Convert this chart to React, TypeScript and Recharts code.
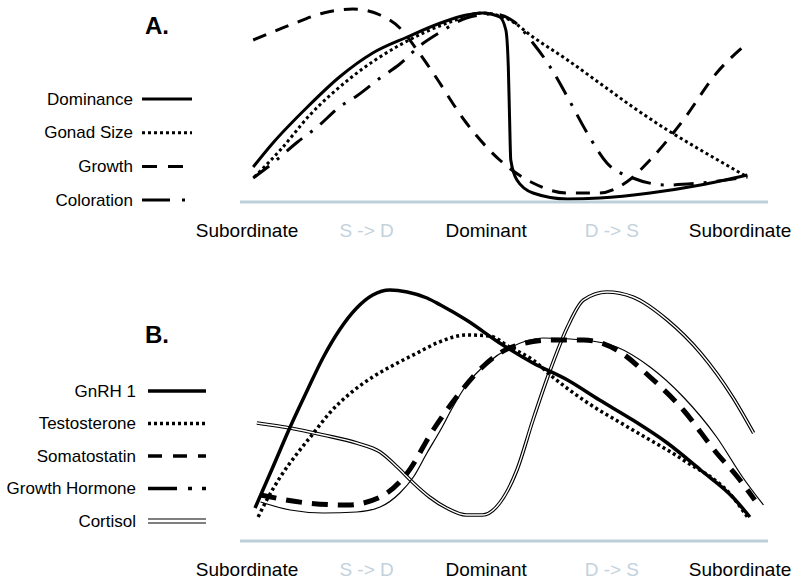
import { LineChart, Line, XAxis, YAxis, Legend } from 'recharts';

// x positions along the cycle: 0 = Subordinate, 2 ~ Dominant, 4 = Subordinate
const TICK_POS = [0, 0.97, 1.94, 2.96, 4];
const TICK_LABELS = ['Subordinate', 'S -> D', 'Dominant', 'D -> S', 'Subordinate'];
const TICK_MUTED = [false, true, false, true, false];

// Panel A
const dominance = [
  { x: 0.05, y: 17.5 }, { x: 0.21, y: 29.5 }, { x: 0.49, y: 47.5 }, { x: 0.75, y: 62.5 }, { x: 1.02, y: 74.5 },
  { x: 1.3, y: 82.5 }, { x: 1.57, y: 89.5 }, { x: 1.78, y: 93.5 }, { x: 1.91, y: 94.5 }, { x: 2.05, y: 92.5 },
  { x: 2.1, y: 86 }, { x: 2.12, y: 67.5 }, { x: 2.13, y: 42.5 }, { x: 2.14, y: 21 }, { x: 2.19, y: 11 },
  { x: 2.32, y: 4.5 }, { x: 2.6, y: 1.5 }, { x: 2.86, y: 2 }, { x: 3.27, y: 4.5 }, { x: 3.68, y: 8.5 },
  { x: 4.06, y: 13.5 },
];
const gonadSize = [
  { x: 0.06, y: 12.5 }, { x: 0.27, y: 26 }, { x: 0.51, y: 43.5 }, { x: 0.84, y: 62 }, { x: 1.24, y: 78.5 },
  { x: 1.65, y: 90 }, { x: 1.91, y: 94.5 }, { x: 2.13, y: 91 }, { x: 2.32, y: 82.5 }, { x: 2.6, y: 71 },
  { x: 2.86, y: 59.5 }, { x: 3.13, y: 47.5 }, { x: 3.41, y: 36 }, { x: 3.68, y: 26 }, { x: 4.06, y: 12.5 },
];
const growth = [
  { x: 0.05, y: 81 }, { x: 0.35, y: 88.5 }, { x: 0.62, y: 94.5 }, { x: 0.86, y: 96.5 }, { x: 1.08, y: 93.5 },
  { x: 1.24, y: 87 }, { x: 1.38, y: 76 }, { x: 1.51, y: 64.5 }, { x: 1.78, y: 39.5 }, { x: 2.05, y: 21 },
  { x: 2.32, y: 9.5 }, { x: 2.6, y: 4.5 }, { x: 2.86, y: 4.5 }, { x: 3.08, y: 10 }, { x: 3.27, y: 21 },
  { x: 3.54, y: 41 }, { x: 3.81, y: 64.5 }, { x: 4.06, y: 79.5 },
];
const coloration = [
  { x: 0.05, y: 12 }, { x: 0.21, y: 19.5 }, { x: 0.41, y: 30 }, { x: 0.57, y: 37.5 }, { x: 0.75, y: 47.5 },
  { x: 0.89, y: 53 }, { x: 1.08, y: 62 }, { x: 1.24, y: 69 }, { x: 1.4, y: 78 }, { x: 1.57, y: 85 },
  { x: 1.78, y: 92 }, { x: 2.0, y: 94 }, { x: 2.17, y: 90 }, { x: 2.32, y: 79.5 }, { x: 2.46, y: 67.5 },
  { x: 2.6, y: 52.5 }, { x: 2.76, y: 34.5 }, { x: 2.92, y: 19.5 }, { x: 3.13, y: 12 }, { x: 3.41, y: 8.5 },
  { x: 3.68, y: 9.5 }, { x: 4.06, y: 12.5 },
];

// Panel B
const gnrh = [
  { x: 0.065, y: 16.5 }, { x: 0.21, y: 37 }, { x: 0.35, y: 57 }, { x: 0.49, y: 75.5 }, { x: 0.62, y: 92 },
  { x: 0.75, y: 105.5 }, { x: 0.89, y: 116.5 }, { x: 1.02, y: 123 }, { x: 1.16, y: 125.5 }, { x: 1.3, y: 124.5 },
  { x: 1.46, y: 121.5 }, { x: 1.57, y: 118 }, { x: 1.78, y: 110.5 }, { x: 2.05, y: 99 }, { x: 2.32, y: 89 },
  { x: 2.6, y: 80.5 }, { x: 2.86, y: 70.5 }, { x: 3.13, y: 60.5 }, { x: 3.41, y: 49 }, { x: 3.68, y: 35.5 },
  { x: 3.94, y: 22 }, { x: 4.08, y: 12 },
];
const testosterone = [
  { x: 0.09, y: 12 }, { x: 0.16, y: 20.5 }, { x: 0.27, y: 32 }, { x: 0.41, y: 44 }, { x: 0.54, y: 54 },
  { x: 0.67, y: 64 }, { x: 0.84, y: 74 }, { x: 1.02, y: 82 }, { x: 1.22, y: 89 }, { x: 1.38, y: 94 },
  { x: 1.54, y: 99 }, { x: 1.78, y: 103 }, { x: 1.97, y: 102.5 }, { x: 2.13, y: 97 }, { x: 2.32, y: 90.5 },
  { x: 2.48, y: 82 }, { x: 2.73, y: 70.5 }, { x: 3.13, y: 55.5 }, { x: 3.54, y: 40.5 }, { x: 3.94, y: 22 },
  { x: 4.06, y: 12 },
];
const somatostatin = [
  { x: 0.11, y: 23 }, { x: 0.49, y: 19 }, { x: 0.81, y: 18 }, { x: 1.08, y: 22 }, { x: 1.3, y: 34 },
  { x: 1.51, y: 55.5 }, { x: 1.7, y: 72 }, { x: 1.91, y: 87 }, { x: 2.13, y: 96.5 }, { x: 2.46, y: 100.5 },
  { x: 2.73, y: 100.5 }, { x: 3.0, y: 95.5 }, { x: 3.27, y: 82 }, { x: 3.54, y: 65.5 }, { x: 3.81, y: 44 },
  { x: 3.98, y: 32 }, { x: 4.12, y: 20.5 },
];
const growthHormone = [
  { x: 0.11, y: 19.5 }, { x: 0.35, y: 15.5 }, { x: 0.62, y: 14 }, { x: 0.89, y: 14.5 }, { x: 1.08, y: 17 },
  { x: 1.24, y: 24 }, { x: 1.35, y: 32 }, { x: 1.46, y: 44 }, { x: 1.57, y: 55.5 }, { x: 1.67, y: 67 },
  { x: 1.78, y: 78 }, { x: 1.95, y: 89 }, { x: 2.13, y: 96.5 }, { x: 2.4, y: 101.5 }, { x: 2.73, y: 100.5 },
  { x: 3.0, y: 97 }, { x: 3.27, y: 87 }, { x: 3.54, y: 72 }, { x: 3.81, y: 52 }, { x: 4.02, y: 32 },
  { x: 4.19, y: 18 },
];
const cortisol = [
  { x: 0.08, y: 59 }, { x: 0.35, y: 56.5 }, { x: 0.62, y: 53 }, { x: 0.89, y: 49 }, { x: 1.08, y: 44.5 },
  { x: 1.22, y: 37 }, { x: 1.35, y: 29 }, { x: 1.48, y: 22 }, { x: 1.62, y: 16.5 }, { x: 1.78, y: 13 },
  { x: 1.91, y: 13 }, { x: 2.05, y: 19 }, { x: 2.19, y: 35.5 }, { x: 2.32, y: 60.5 }, { x: 2.46, y: 85.5 },
  { x: 2.6, y: 107 }, { x: 2.73, y: 120.5 }, { x: 2.92, y: 124.5 }, { x: 3.13, y: 122 }, { x: 3.41, y: 110.5 },
  { x: 3.68, y: 94 }, { x: 3.94, y: 72 }, { x: 4.11, y: 54 },
];

const LEGEND_A = ['Dominance', 'Gonad Size', 'Growth', 'Coloration'];
const LEGEND_B = ['GnRH 1', 'Testosterone', 'Somatostatin', 'Growth Hormone', 'Cortisol'];

const FONT = '"Liberation Sans", Arial, Helvetica, sans-serif';
const AXIS_COLOR = '#bccfda';
const MUTED = '#c3d2dc';
const X_DOMAIN: [number, number] = [-0.057, 4.227];

const Tick = ({ x, y, index }: any) => (
  <text
    x={x}
    y={y + 20}
    textAnchor="middle"
    dominantBaseline="central"
    fontFamily={FONT}
    fontSize={19}
    fill={TICK_MUTED[index] ? MUTED : '#000'}
  >
    {TICK_LABELS[index]}
  </text>
);

const legendA = () => {
  const dashes = ['', '3 3', '15 11 15 100', '28 12 3 100'];
  return (
    <svg width={240} height={260} style={{ fontFamily: FONT }}>
      <text x={145} y={34} fontSize={24} fontWeight="bold">A.</text>
      {LEGEND_A.map((name, i) => {
        const cy = 99 + i * 33.7;
        return (
          <g key={name}>
            <text x={133} y={cy} textAnchor="end" dominantBaseline="central" fontSize={17}>{name}</text>
            <line x1={142} x2={192} y1={cy} y2={cy} stroke="#000" strokeWidth={3} strokeDasharray={dashes[i] || undefined} />
          </g>
        );
      })}
    </svg>
  );
};

const legendB = () => {
  const dashes = ['', '3 3', '14 11', '29 11 4 10 4 100', ''];
  return (
    <svg width={240} height={322} style={{ fontFamily: FONT }}>
      <text x={145} y={83} fontSize={24} fontWeight="bold">B.</text>
      {LEGEND_B.map((name, i) => {
        const cy = 131 + i * 32.5;
        if (i === 4) {
          return (
            <g key={name}>
              <text x={136} y={cy} textAnchor="end" dominantBaseline="central" fontSize={17}>{name}</text>
              <line x1={148} x2={206} y1={cy - 2} y2={cy - 2} stroke="#000" strokeWidth={1.2} />
              <line x1={148} x2={206} y1={cy + 2} y2={cy + 2} stroke="#000" strokeWidth={1.2} />
            </g>
          );
        }
        return (
          <g key={name}>
            <text x={136} y={cy} textAnchor="end" dominantBaseline="central" fontSize={17}>{name}</text>
            <line x1={148} x2={206} y1={cy} y2={cy} stroke="#000" strokeWidth={3.5} strokeDasharray={dashes[i] || undefined} />
          </g>
        );
      })}
    </svg>
  );
};

const xAxis = (height: number) => (
  <XAxis
    type="number"
    dataKey="x"
    domain={X_DOMAIN}
    ticks={TICK_POS}
    allowDataOverflow
    tick={<Tick />}
    tickLine={false}
    axisLine={{ stroke: AXIS_COLOR, strokeWidth: 3 }}
    height={height}
    interval={0}
  />
);

export default function App() {
  return (
    <div style={{ position: 'absolute', left: 0, top: 0, width: 800, height: 582, background: '#fff' }}>
      <div style={{ position: 'absolute', left: 0, top: 0 }}>
        <LineChart width={800} height={260} margin={{ top: 2, right: 32, bottom: 0, left: 240 }}>
          {xAxis(58)}
          <YAxis hide domain={[0, 100]} allowDataOverflow />
          <Legend
            layout="vertical"
            align="center"
            verticalAlign="middle"
            content={legendA}
            wrapperStyle={{ left: 0, top: 0, width: 240, height: 260 }}
          />
          <Line data={growth} dataKey="y" type="monotone" stroke="#000" strokeWidth={3} strokeDasharray="14 10" dot={false} isAnimationActive={false} />
          <Line data={coloration} dataKey="y" type="monotone" stroke="#000" strokeWidth={3} strokeDasharray="20 10 3 10" dot={false} isAnimationActive={false} />
          <Line data={gonadSize} dataKey="y" type="monotone" stroke="#000" strokeWidth={3} strokeDasharray="3 3" dot={false} isAnimationActive={false} />
          <Line data={dominance} dataKey="y" type="monotone" stroke="#000" strokeWidth={3} dot={false} isAnimationActive={false} />
        </LineChart>
      </div>
      <div style={{ position: 'absolute', left: 0, top: 260 }}>
        <LineChart width={800} height={322} margin={{ top: 21, right: 32, bottom: 0, left: 240 }}>
          {xAxis(41)}
          <YAxis hide domain={[0, 130]} allowDataOverflow />
          <Legend
            layout="vertical"
            align="center"
            verticalAlign="middle"
            content={legendB}
            wrapperStyle={{ left: 0, top: 0, width: 240, height: 322 }}
          />
          <Line data={cortisol} dataKey="y" type="monotone" stroke="#000" strokeWidth={3.6} dot={false} isAnimationActive={false} />
          <Line data={cortisol} dataKey="y" type="monotone" stroke="#fff" strokeWidth={1.4} dot={false} isAnimationActive={false} />
          <Line data={growthHormone} dataKey="y" type="monotone" stroke="#000" strokeWidth={1.2} dot={false} isAnimationActive={false} />
          <Line data={somatostatin} dataKey="y" type="monotone" stroke="#000" strokeWidth={5} strokeDasharray="16 10" dot={false} isAnimationActive={false} />
          <Line data={testosterone} dataKey="y" type="monotone" stroke="#000" strokeWidth={3.5} strokeDasharray="3 3" dot={false} isAnimationActive={false} />
          <Line data={gnrh} dataKey="y" type="monotone" stroke="#000" strokeWidth={3.5} dot={false} isAnimationActive={false} />
        </LineChart>
      </div>
    </div>
  );
}
